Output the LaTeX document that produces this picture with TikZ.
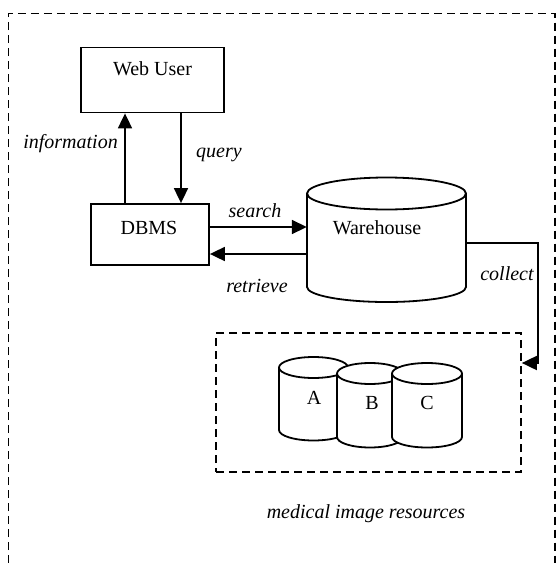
\documentclass[tikz,border=0pt]{standalone}
\usepackage{fontspec}
\setmainfont{Liberation Serif}
\usetikzlibrary{arrows.meta}
\begin{document}
\begin{tikzpicture}[x=1pt,y=-1pt,
  lw/.style={line width=1.8pt},
  box/.style={draw,lw,rectangle,inner sep=0pt},
  ghost/.style={rectangle,inner sep=0pt},
  dashframe/.style={draw,line width=1.7pt,dash pattern=on 8pt off 5pt},
  arr/.style={lw,-{Triangle[length=15pt,width=14pt]}},
  txt/.style={anchor=base,inner sep=0pt,font=\fontsize{20}{24}\selectfont},
  itxt/.style={txt,font=\fontsize{20}{24}\selectfont\itshape},
  cyl/.style={draw,lw,fill=white}]
\useasboundingbox (0,0) rectangle (560,563);
% outer frame (open at the bottom)
\draw[dashframe] (8.5,563) -- (8.5,13.5) -- (555,13.5) -- (555,563);

% Web User and DBMS boxes
\node[box,minimum width=143pt,minimum height=65pt] (web) at (152.5,80) {};
\node[txt] (webt) at (152.5,75.5) {Web User};
\node[box,minimum width=118pt,minimum height=61pt] (dbms) at (150,234.5) {};
\node[txt] (dbmst) at (149,234.5) {DBMS};

% Warehouse cylinder
\node[ghost,minimum width=159pt,minimum height=125pt] (wh) at (386.5,239.5) {};
\path[cyl] (307,193.5) -- (307,287) arc[start angle=180,end angle=360,x radius=79.5pt,y radius=15pt]
  -- (466,193.5) arc[start angle=0,end angle=180,x radius=79.5pt,y radius=16pt] -- cycle;
\draw[lw] (307,193.5) arc[start angle=180,end angle=360,x radius=79.5pt,y radius=16pt];
\node[txt] (wht) at (377,234.5) {Warehouse};

% medical image resources box
\node[dashframe,rectangle,minimum width=305pt,minimum height=139pt,inner sep=0pt] (res) at (368.5,402.5) {};

% cylinder A
\node[ghost,minimum width=69pt,minimum height=83pt] (ca) at (313.5,398.5) {};
\path[cyl] (279,367.5) -- (279,430) arc[start angle=180,end angle=360,x radius=34.5pt,y radius=10.5pt]
  -- (348,367.5) arc[start angle=0,end angle=180,x radius=34.5pt,y radius=10.5pt] -- cycle;
\draw[lw] (279,367.5) arc[start angle=180,end angle=360,x radius=34.5pt,y radius=10.5pt];
\node[txt] (cat) at (314,404) {A};
% cylinder B
\node[ghost,minimum width=66pt,minimum height=84pt] (cb) at (370,405) {};
\path[cyl] (337,373.5) -- (337,437) arc[start angle=180,end angle=360,x radius=33pt,y radius=10.5pt]
  -- (403,373.5) arc[start angle=0,end angle=180,x radius=33pt,y radius=10.5pt] -- cycle;
\draw[lw] (337,373.5) arc[start angle=180,end angle=360,x radius=33pt,y radius=10.5pt];
\node[txt] (cbt) at (372,409) {B};
% cylinder C
\node[ghost,minimum width=70pt,minimum height=84pt] (cc) at (427,405) {};
\path[cyl] (392,373.5) -- (392,437) arc[start angle=180,end angle=360,x radius=35pt,y radius=10.5pt]
  -- (462,373.5) arc[start angle=0,end angle=180,x radius=35pt,y radius=10.5pt] -- cycle;
\draw[lw] (392,373.5) arc[start angle=180,end angle=360,x radius=35pt,y radius=10.5pt];
\node[txt] (cct) at (427,409) {C};

% connectors
\draw[arr] ([xshift=-25pt]dbms.north) -- ([xshift=-25pt]dbms.north |- web.south);
\draw[arr] ([xshift=31pt]dbms.north |- web.south) -- ([xshift=31pt]dbms.north);
\draw[arr] ([yshift=7.5pt]dbms.east) -- ([yshift=7.5pt]dbms.east -| wh.west);
\draw[arr] ([yshift=-19.5pt]dbms.east -| wh.west) -- ([yshift=-19.5pt]dbms.east);
\coordinate (bend) at (538,363);
\draw[arr] ([yshift=-3.5pt]wh.east) -| (bend) -- ([yshift=39.5pt]res.east);

% labels
\node[itxt,anchor=base east] (linfo) at (118,148) {information};
\node[itxt] (lquery) at (219,157) {query};
\node[itxt] (lsearch) at (255,217) {search};
\node[itxt] (lretr) at (257,292) {retrieve};
\node[itxt] (lcoll) at (507,280) {collect};
\node[itxt] (lres) at (366,518) {medical image resources};
\end{tikzpicture}
\end{document}
